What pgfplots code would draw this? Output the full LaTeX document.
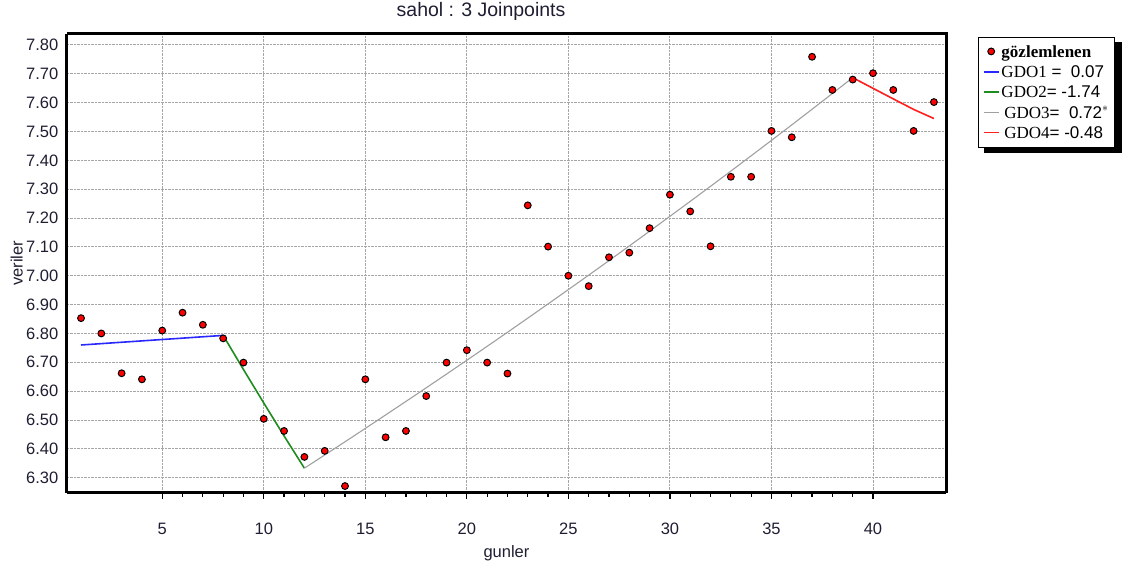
\documentclass[border=0pt]{standalone}
\usepackage{pgfplots}
\pgfplotsset{compat=1.18}
\usepackage{fontspec}
\setmainfont{Liberation Sans}
\newfontfamily\serif{Liberation Serif}
\definecolor{txt}{RGB}{30,30,50}
\definecolor{gblue}{RGB}{40,40,255}
\definecolor{ggreen}{RGB}{30,140,30}
\definecolor{ggray}{RGB}{160,160,160}
\definecolor{gred}{RGB}{255,30,30}
\pgfplotsset{
  linelegend/.style={legend image code/.code={\draw[##1] (0pt,0.5pt) -- (15pt,0.5pt);}},
  dotlegend/.style={legend image code/.code={\draw[##1] plot coordinates {(7.5pt,0.5pt)};}},
}
\begin{document}
\begin{tikzpicture}
\path[use as bounding box] (0,0) rectangle (1128pt,570pt);
% legend shadow (drawn beneath the legend box)
\fill[black] (984pt,417pt) rectangle (1121.5pt,528pt);
\begin{axis}[
  at={(66.8pt,77.3pt)}, anchor=south west,
  scale only axis, width=879.3pt, height=459pt,
  xmin=0.3, xmax=43.6, ymin=6.248, ymax=7.839,
  xtick={5,10,...,40}, minor x tick num=4,
  ytick={6.3,6.4,...,7.85},
  yticklabel={\pgfmathprintnumber[fixed,fixed zerofill,precision=2]{\tick}},
  /pgf/number format/assume math mode=true,
  tick align=outside,
  major tick length=6pt, minor tick length=4pt,
  ytick style={draw=none},
  xtick style={black, line width=1.2pt},
  minor x tick style={black, line width=1.2pt},
  axis x line*=bottom, axis y line*=left,
  grid=major,
  major grid style={densely dotted, gray!70, line width=0.9pt},
  axis line style={line width=3pt},
  tick label style={font=\fontsize{16.5}{19}\selectfont, text=txt},
  xticklabel style={yshift=-21pt},
  yticklabel style={xshift=1pt},
  title={sahol : 3 Joinpoints},
  title style={at={(axis description cs:0.4711,1.0254)}, anchor=base, font=\fontsize{19.5}{22}\selectfont, text=txt},
  xlabel={gunler},
  xlabel style={at={(axis description cs:0.5,-0.1407)}, anchor=base, font=\fontsize{16.5}{19}\selectfont, text=txt},
  ylabel={veriler},
  ylabel style={at={(axis description cs:-0.057,0.5)}, anchor=center, font=\fontsize{16.5}{19}\selectfont, text=txt},
  legend style={at={(axis description cs:1.0366,0.9935)}, anchor=north west,
    draw=black, line width=1.2pt, fill=white,
    font=\fontsize{17}{20}\selectfont, text=black,
    inner xsep=4pt, inner ysep=6pt, row sep=3pt},
  legend cell align=left,
  clip=false,
]
% frame top and right
\draw[line width=3pt] (rel axis cs:0,1) -- (rel axis cs:1,1) -- (rel axis cs:1,0);
\addplot[only marks, mark=*, mark size=3.4pt, mark options={fill=red, draw=black, line width=1pt}, dotlegend]
  coordinates {
  (1,6.853) (2,6.800) (3,6.662) (4,6.641) (5,6.810) (6,6.872) (7,6.830) (8,6.783)
  (9,6.699) (10,6.504) (11,6.462) (12,6.372) (13,6.393) (14,6.271) (15,6.641)
  (16,6.440) (17,6.462) (18,6.583) (19,6.699) (20,6.742) (21,6.699) (22,6.661)
  (23,7.244) (24,7.101) (25,7.000) (26,6.964) (27,7.064) (28,7.080) (29,7.165)
  (30,7.281) (31,7.223) (32,7.102) (33,7.343) (34,7.343) (35,7.502) (36,7.480)
  (37,7.759) (38,7.644) (39,7.680) (40,7.702) (41,7.644) (42,7.502) (43,7.602)
  };
\addlegendentry{{\serif\bfseries gözlemlenen}}
\addplot[gblue, line width=1.6pt, linelegend] coordinates {
  (1,6.760) (2,6.7647) (3,6.7695) (4,6.7742) (5,6.7790) (6,6.7837) (7,6.7885) (8,6.7932)};
\addlegendentry{{\serif GDO1} = \ 0.07}
\addplot[ggreen, line width=1.6pt, linelegend] coordinates {
  (8,6.7932) (9,6.6750) (10,6.5589) (11,6.4447) (12,6.3330)};
\addlegendentry{{\serif GDO2}= -1.74}
\addplot[ggray, line width=1.1pt, linelegend] coordinates {
  (12,6.3330) (13,6.3786) (14,6.4245) (15,6.4708) (16,6.5174) (17,6.5643) (18,6.6116)
  (19,6.6592) (20,6.7071) (21,6.7554) (22,6.8040) (23,6.8530) (24,6.9024) (25,6.9521)
  (26,7.0021) (27,7.0525) (28,7.1033) (29,7.1545) (30,7.2060) (31,7.2579) (32,7.3101)
  (33,7.3628) (34,7.4158) (35,7.4692) (36,7.5229) (37,7.5771) (38,7.6317) (39,7.6866)};
\addlegendentry{\,{\serif GDO3}= \ 0.72$^{*}$}
\addplot[gred, line width=1.6pt, linelegend] coordinates {
  (39,7.6866) (40,7.6497) (41,7.6130) (42,7.5765) (43,7.5450)};
\addlegendentry{\,{\serif GDO4}= -0.48}
\end{axis}
\end{tikzpicture}
\end{document}
